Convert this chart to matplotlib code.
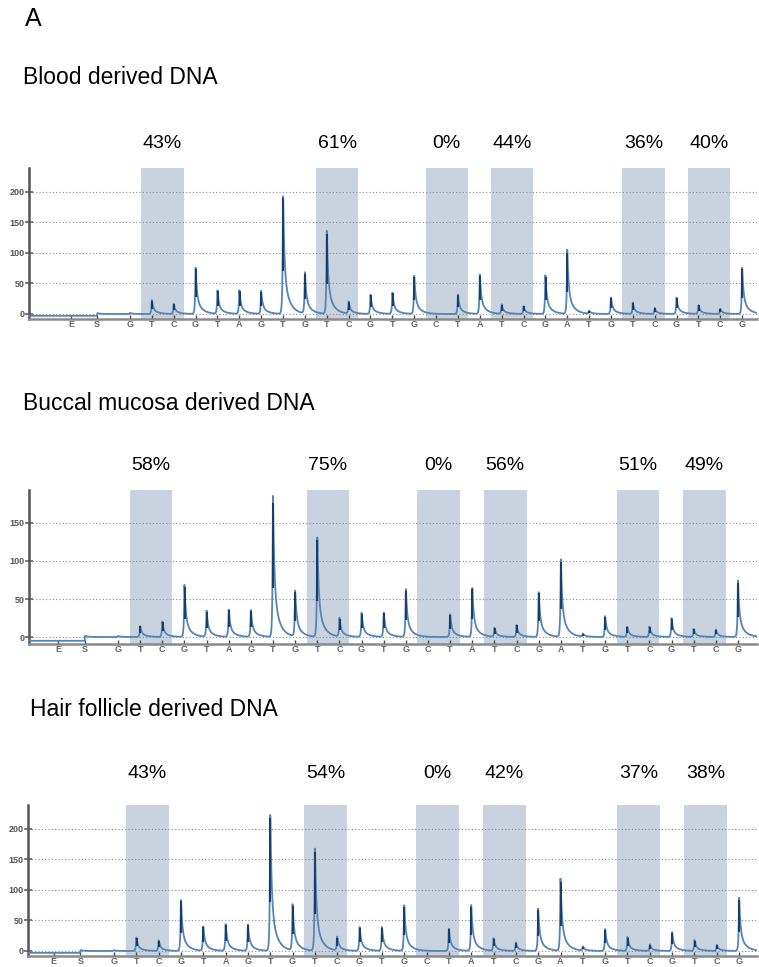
import numpy as np
import matplotlib.pyplot as plt

plt.rcParams['font.family'] = ['Liberation Sans', 'DejaVu Sans']

# dispensation order after the E and S injections
dispensations = list("GTCGTAGTGTCGTGCTATCGATGTCGTCG")

# peak heights per dispensation
blood_heights = [2, 23, 17, 78, 39, 39, 38, 200, 69, 138, 20, 32, 36, 64, 0,
                 32, 66, 16, 13, 64, 105, 5, 28, 19, 10, 27, 15, 9, 77]
buccal_heights = [1.5, 15, 21, 69, 35, 37, 36, 186, 62, 134, 25, 32, 33, 64, 0,
                  31, 66, 12, 16, 61, 104, 4, 28, 14, 14, 25, 11, 10, 75]
hair_heights = [1.5, 23, 18, 86, 41, 45, 44, 228, 77, 171, 23, 40, 40, 76, 0,
                37, 76, 21, 14, 70, 119, 7, 36, 23, 11, 31, 18, 10, 87]

# methylation at each CpG site
blood_pct = [43, 61, 0, 44, 36, 40]
buccal_pct = [58, 75, 0, 56, 51, 49]
hair_pct = [43, 54, 0, 42, 37, 38]

# first dispensation of each CpG window (T/C pair)
cpg_start = [1, 9, 14, 17, 23, 26]

titles = ["Blood derived DNA", "Buccal mucosa derived DNA", "Hair follicle derived DNA"]
yticks = [[0, 50, 100, 150, 200], [0, 50, 100, 150], [0, 50, 100, 150, 200]]
pre_baseline = [-3, -5, -3]

W, H = 759, 967
# panel geometry in pixels
panels = [
    dict(left=29, top=168, bottom=319, xlim=(-4.62, 28.68), ylim=(-8.2, 239),
         ty=77, tx=23, py=143),
    dict(left=29, top=490, bottom=644, xlim=(-4.02, 28.86), ylim=(-9.2, 193.4),
         ty=404, tx=23, py=465),
    dict(left=28, top=805, bottom=956, xlim=(-3.85, 28.8), ylim=(-8.2, 238.6),
         ty=709, tx=30, py=774),
]
right = 757

E_POS, S_POS = -2.7, -1.5


def pyrogram(x, heights, base):
    y = np.where(x < S_POS, base, 0.0)
    y = y + 1.5 * np.exp(-np.abs(x - S_POS) / 0.15) * (x >= S_POS)
    for i, h in enumerate(heights):
        d = x - i
        dp = np.clip(d, 0, None)
        tail = 0.65 * np.exp(-dp / 0.06) + 0.35 * np.exp(-dp / 0.25)
        rise = np.exp(np.clip(d, None, 0) / 0.025)
        y = y + h * np.where(d >= 0, tail, rise)
    return y


fig = plt.figure(figsize=(W / 100, H / 100), dpi=100)
fig.text(25 / W, 1 - 19 / H, "A", fontsize=18, va="center", ha="left")

all_heights = [blood_heights, buccal_heights, hair_heights]
all_pct = [blood_pct, buccal_pct, hair_pct]

for k, p in enumerate(panels):
    ax = fig.add_axes([p["left"] / W, 1 - p["bottom"] / H,
                       (right - p["left"]) / W, (p["bottom"] - p["top"]) / H])
    ax.set_xlim(*p["xlim"])
    ax.set_ylim(*p["ylim"])

    for s in cpg_start:
        ax.axvspan(s - 0.48, s + 1.45, color="#c9d2df", lw=0, zorder=0)

    for t in yticks[k]:
        ax.axhline(t, color="#8a8a8a", lw=0.8, ls=(0, (1, 2)), zorder=1)

    x = np.linspace(p["xlim"][0], p["xlim"][1], 8000)
    heights = all_heights[k]
    ax.plot(x, pyrogram(x, heights, pre_baseline[k]), color="#5585b5", lw=1.3, zorder=3)
    # darker core of each peak
    pos = np.arange(len(heights))
    h = np.array(heights, dtype=float)
    ax.vlines(pos[h > 3] + 0.01, 0.35 * h[h > 3], 0.95 * h[h > 3],
              color="#173f6a", lw=1.5, zorder=4)

    ax.set_yticks(yticks[k])
    ax.set_yticklabels([str(t) for t in yticks[k]])
    ax.set_xticks([E_POS, S_POS] + list(pos))
    ax.set_xticklabels(["E", "S"] + dispensations)
    ax.tick_params(axis="y", direction="inout", length=6, width=1.2, color="#666666",
                   labelsize=6.5, labelcolor="#555555", pad=0)
    ax.tick_params(axis="x", direction="in", length=3, width=1, color="#444444",
                   labelsize=6.5, labelcolor="#666666", pad=0.5)
    for lab in ax.get_xticklabels() + ax.get_yticklabels():
        lab.set_fontweight("bold")

    for side in ["top", "right"]:
        ax.spines[side].set_visible(False)
    ax.spines["left"].set_color("#555555")
    ax.spines["left"].set_linewidth(1.8)
    ax.spines["bottom"].set_color("#8a8a8a")
    ax.spines["bottom"].set_linewidth(1.8)

    fig.text(p["tx"] / W, 1 - p["ty"] / H, titles[k], fontsize=16.5,
             va="center", ha="left")
    for s, v in zip(cpg_start, all_pct[k]):
        ax.annotate(f"{v}%", xy=(s + 0.485, H - p["py"]),
                    xycoords=("data", "figure pixels"),
                    ha="center", va="center", fontsize=14, annotation_clip=False)

fig.savefig("out.png", dpi=100)
